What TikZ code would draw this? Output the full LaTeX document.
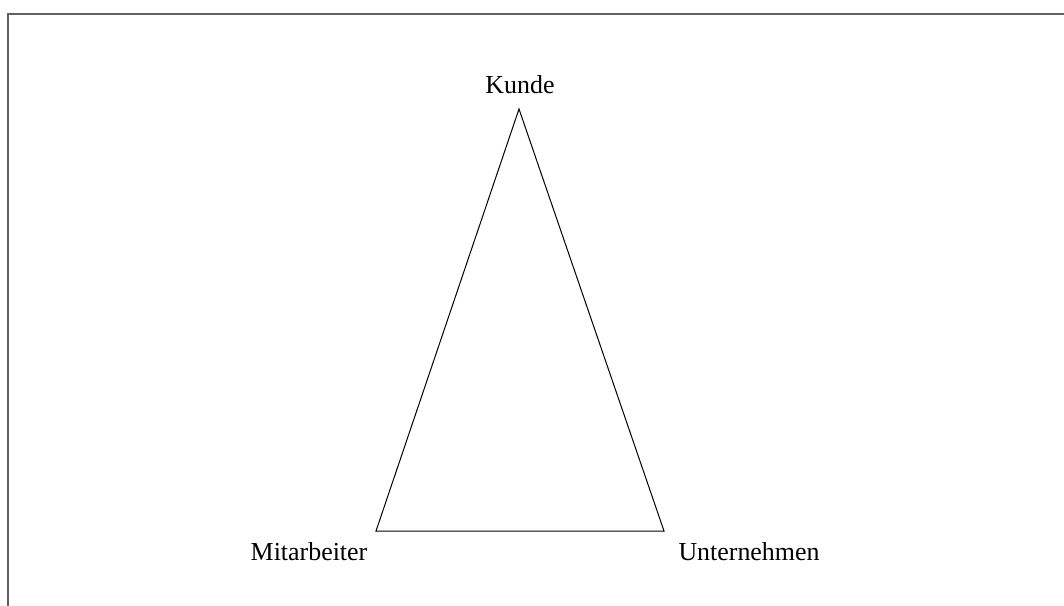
\documentclass[tikz,border=0pt]{standalone}
\usepackage{fontspec}
\setmainfont{Liberation Serif}
\usetikzlibrary{positioning}

\begin{document}
\begin{tikzpicture}[
  x=1bp, y=-1bp,
  frame/.style={draw=black!62, line width=2bp},
  side/.style={draw=black, line width=1bp, line join=miter},
  corner/.style={font=\fontsize{26}{31}\selectfont, inner sep=0pt, anchor=base}
]

\useasboundingbox (0,0) rectangle (1064,606);

% outer frame, cut off at right and bottom
\begin{scope}
  \clip (0,0) rectangle (1064,606);
  \draw[frame] (8,14) rectangle (1080,620);
\end{scope}

% triangle corners
\coordinate (kunde) at (519,109);
\coordinate (mitarbeiter) at (376,531);
\coordinate (unternehmen) at (664,531);

\draw[side] (kunde) -- (mitarbeiter) -- (unternehmen) -- cycle;

% labels
\node[corner] (kundelabel) at (520,94) {Kunde};
\node[corner] (mitarbeiterlabel) at (309,560) {Mitarbeiter};
\node[corner] (unternehmenlabel) at (749,560) {Unternehmen};

\end{tikzpicture}
\end{document}
